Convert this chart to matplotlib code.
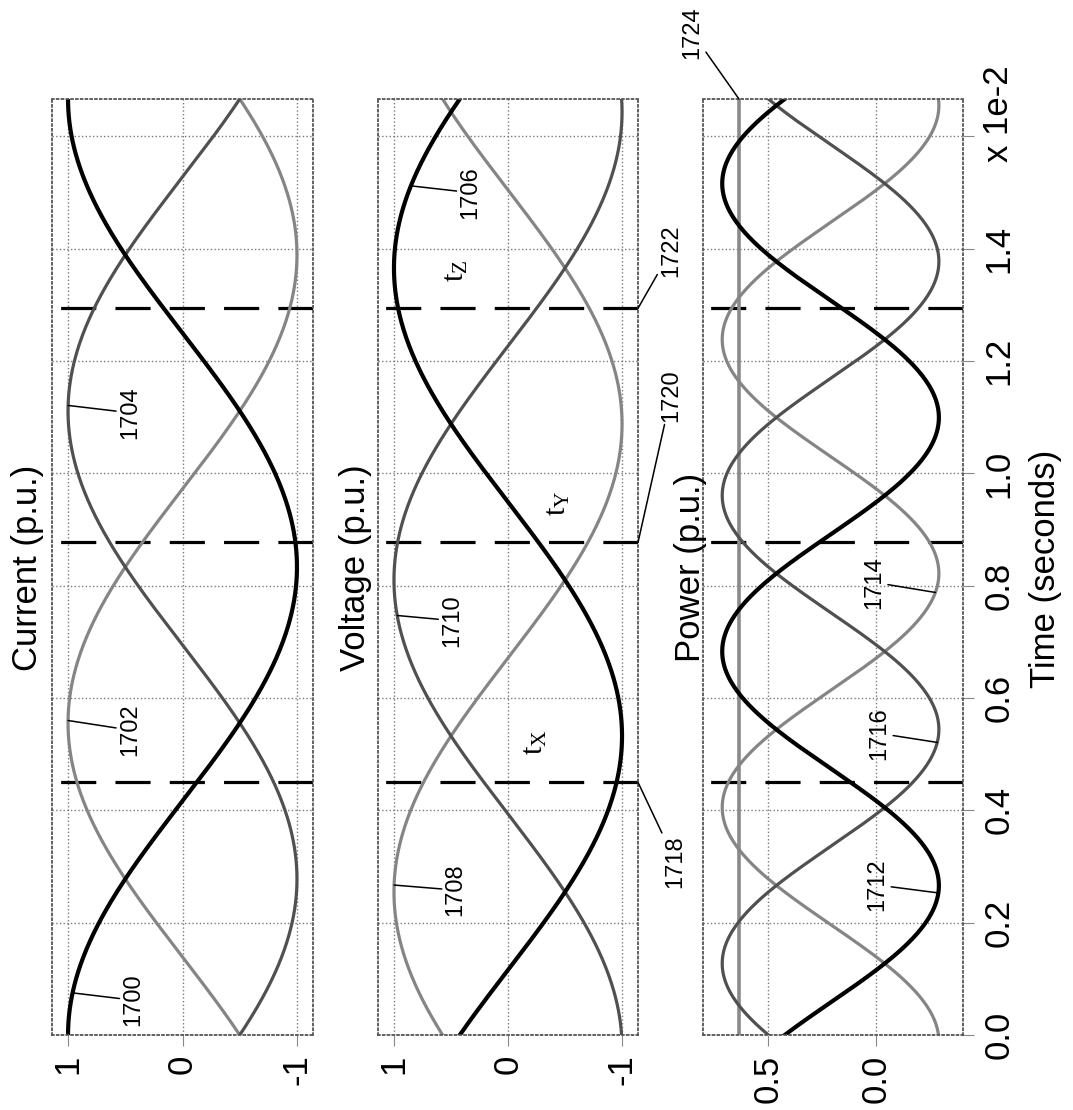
import numpy as np
import matplotlib.pyplot as plt

plt.rcParams['font.family'] = ['Liberation Sans', 'DejaVu Sans']
plt.rcParams['axes.unicode_minus'] = False

# one 60 Hz cycle; time axis is in units of 1e-2 s
period = 100.0 / 60.0
time_ticks = [0.0, 0.2, 0.4, 0.6, 0.8, 1.0, 1.2, 1.4, 1.6]
time_tick_labels = ['0.0', '0.2', '0.4', '0.6', '0.8', '1.0', '1.2', '1.4', '']

# phase angles (degrees) of the three phase waveforms, amplitude 1 p.u.
current_phase_deg = [0, -120, 120]
voltage_phase_deg = [65, -55, 185]
current_ids = ['1700', '1702', '1704']
voltage_ids = ['1706', '1708', '1710']
power_ids = ['1712', '1714', '1716']
total_power_id = '1724'

# switching instants marked by the dashed lines
event_times = [0.45, 0.877, 1.294]
event_ids = ['1718', '1720', '1722']
event_names = ['X', 'Y', 'Z']

line_colors = ['black', '#858585', '#505050']
line_widths = [3.0, 2.3, 2.3]

W, H = 1073, 1110
fig = plt.figure(figsize=(W / 100, H / 100), dpi=100)


def px_axes(x0, x1, y0=99, y1=1035):
    return fig.add_axes([x0 / W, 1 - y1 / H, (x1 - x0) / W, (y1 - y0) / H])


def fig_text(x, y, s, **kw):
    fig.text(x / W, 1 - y / H, s, rotation=90, ha='center', va='center', **kw)


omega = 2 * np.pi / period
t = np.linspace(0, period, 600)


def wave(phase_deg, tt):
    return np.cos(omega * tt + np.radians(phase_deg))


def power(k, tt):
    return wave(current_phase_deg[k], tt) * wave(voltage_phase_deg[k], tt)


ax_i = px_axes(52, 313)
ax_v = px_axes(378, 638)
ax_p = px_axes(703, 963)
value_lims = [(1.14, -1.14), (1.14, -1.14), (0.8, -0.4)]

for ax, lim in zip([ax_i, ax_v, ax_p], value_lims):
    ax.set_xlim(*lim)
    ax.set_ylim(0, period)
    ax.set_yticks(time_ticks)
    ax.grid(True, linestyle=':', color='#7a7a7a', lw=1.0)
    for sp in ax.spines.values():
        sp.set_linestyle(':')
        sp.set_color('#555555')
        sp.set_linewidth(1.3)
    ax.tick_params(axis='x', direction='out', length=8, width=0.8, color='#888888',
                   labelsize=25, labelrotation=90, pad=6)
    # dashed markers, drawn from the low-value edge so the dash pattern starts there
    for te in event_times:
        ax.plot([lim[1], lim[0]], [te, te], color='black', lw=2.3, dashes=(11, 6))

for ax in [ax_i, ax_v]:
    ax.set_xticks([1, 0, -1])
    ax.set_xticklabels(['1', '0', '-1'])
    ax.tick_params(axis='y', left=False, right=False, labelleft=False)

ax_p.set_xticks([0.5, 0.0])
ax_p.set_xticklabels(['0.5', '0.0'])
ax_p.yaxis.tick_right()
ax_p.set_yticklabels(time_tick_labels)
ax_p.tick_params(axis='y', left=False, right=True, direction='out', length=8, width=0.8,
                 color='#888888', labelsize=25, labelrotation=90, pad=6)
for lab in ax_p.get_yticklabels():
    lab.set_va('center')

# waveforms
for k in [1, 2, 0]:
    ax_i.plot(wave(current_phase_deg[k], t), t, color=line_colors[k], lw=line_widths[k])
    ax_v.plot(wave(voltage_phase_deg[k], t), t, color=line_colors[k], lw=line_widths[k])
total = power(0, t) + power(1, t) + power(2, t)
ax_p.plot(total, t, color='#8a8a8a', lw=2.6)
for k in [1, 2, 0]:
    ax_p.plot(power(k, t), t, color=line_colors[k], lw=line_widths[k])

leader = dict(arrowstyle='-', lw=1.1, color='black', shrinkA=0, shrinkB=0)


def label_curve(ax, s, y_curve, t_pt, v_txt, t_txt):
    ax.annotate(s, xy=(y_curve, t_pt), xytext=(v_txt, t_txt), rotation=90, fontsize=17,
                ha='center', va='center', arrowprops=leader, annotation_clip=False)


# current labels
for k, (t_pt, v_txt, t_txt) in enumerate([(0.075, 0.43, 0.062), (0.56, 0.46, 0.543),
                                           (1.121, 0.46, 1.108)]):
    label_curve(ax_i, current_ids[k], wave(current_phase_deg[k], t_pt), t_pt, v_txt, t_txt)

# voltage labels
for k, (t_pt, v_txt, t_txt) in enumerate([(1.512, 0.33, 1.50), (0.267, 0.46, 0.258),
                                           (0.747, 0.49, 0.738)]):
    label_curve(ax_v, voltage_ids[k], wave(voltage_phase_deg[k], t_pt), t_pt, v_txt, t_txt)

# power labels
for k, (t_pt, v_txt, t_txt) in enumerate([(0.253, -0.005, 0.267), (0.788, 0.01, 0.806),
                                           (0.521, -0.014, 0.537)]):
    label_curve(ax_p, power_ids[k], power(k, t_pt), t_pt, v_txt, t_txt)
label_curve(ax_p, total_power_id, total[-1], period, 0.85, 1.785)

# dashed-line labels and interval names
for te, s, (v_txt, t_txt) in zip(event_times, event_ids,
                                  [(-1.47, 0.308), (-1.43, 1.139), (-1.43, 1.397)]):
    label_curve(ax_v, s, -1.14, te, v_txt, t_txt)

for name, (v_txt, t_txt) in zip(event_names, [(-0.235, 0.521), (-0.435, 0.947), (0.46, 1.361)]):
    ax_v.text(v_txt, t_txt, r'$\mathregular{t_%s}$' % name, rotation=90, fontsize=22,
              family='Liberation Serif', ha='center', va='center')

# titles and axis labels
fig_text(28, 568, 'Current (p.u.)', fontsize=25)
fig_text(355, 568, 'Voltage (p.u.)', fontsize=25)
fig_text(690, 567, 'Power (p.u.)', fontsize=25)
fig_text(1045, 569, 'Time (seconds)', fontsize=25)
fig_text(998, 114, 'x 1e-2', fontsize=25)

fig.savefig('out.png', dpi=100)
